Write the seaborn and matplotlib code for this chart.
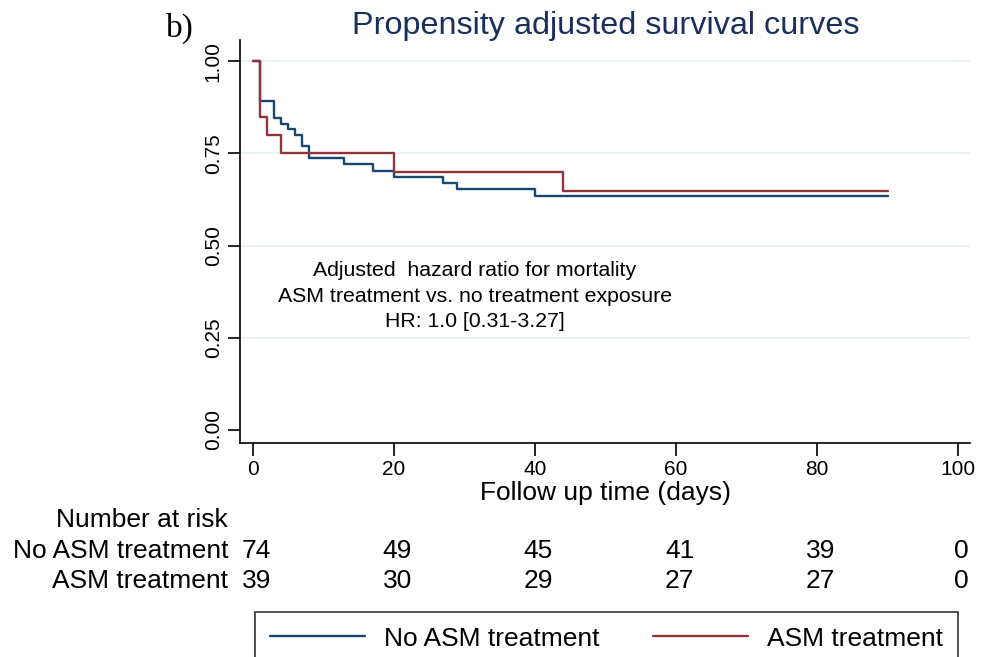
import pandas as pd
import matplotlib
matplotlib.use("Agg")
import matplotlib.pyplot as plt
import matplotlib.transforms as mtransforms
from matplotlib.lines import Line2D
import seaborn as sns

# step curves (time in days, survival)
no_asm_time = [0, 1, 3, 4, 5, 6, 7, 8, 13, 17, 20, 27, 29, 40, 90]
no_asm_surv = [1.0, 0.892, 0.845, 0.829, 0.815, 0.80, 0.770, 0.737, 0.720, 0.703, 0.686, 0.670, 0.652, 0.635, 0.635]
asm_time = [0, 1, 2, 4, 20, 44, 90]
asm_surv = [1.0, 0.849, 0.80, 0.752, 0.70, 0.649, 0.649]

risk_times = [0, 20, 40, 60, 80, 100]
risk_no_asm = [74, 49, 45, 41, 39, 0]
risk_asm = [39, 30, 29, 27, 27, 0]

groups = ["No ASM treatment", "ASM treatment"]
colors = {"No ASM treatment": "#1a476f", "ASM treatment": "#90353b"}

df = pd.concat([
    pd.DataFrame({"time": no_asm_time, "surv": no_asm_surv, "group": groups[0]}),
    pd.DataFrame({"time": asm_time, "surv": asm_surv, "group": groups[1]}),
])

sns.set_style("white")
plt.rcParams["font.family"] = ["Liberation Sans", "DejaVu Sans"]
plt.rcParams["text.color"] = "black"
plt.rcParams["axes.labelcolor"] = "black"
plt.rcParams["xtick.color"] = "black"
plt.rcParams["ytick.color"] = "black"

fig = plt.figure(figsize=(9.88, 6.57), dpi=100)
ax = fig.add_axes([0.243, 0.326, 0.739, 0.613])

for y in [0.25, 0.5, 0.75, 1.0]:
    ax.axhline(y, color="#eaf2f3", lw=1.5, zorder=0)

sns.lineplot(data=df, x="time", y="surv", hue="group", palette=colors,
             drawstyle="steps-post", estimator=None, lw=1.7, legend=False, ax=ax)

ax.set_xlim(-1.8, 101.7)
ax.set_ylim(-0.035, 1.057)
ax.set_xticks(risk_times)
ax.set_yticks([0, 0.25, 0.5, 0.75, 1.0])
ax.set_yticklabels(["0.00", "0.25", "0.50", "0.75", "1.00"], rotation=90, va="center")
ax.tick_params(axis="both", direction="out", length=9, width=1.2, color="black", labelsize=15)
ax.tick_params(axis="both", left=True, bottom=True)
for side in ["top", "right"]:
    ax.spines[side].set_visible(False)
for side in ["left", "bottom"]:
    ax.spines[side].set_color("black")
    ax.spines[side].set_linewidth(1.2)
ax.set_xlabel("Follow up time (days)", fontsize=19, labelpad=1)
ax.set_ylabel("")

ax.text(31.5, 0.363, "Adjusted  hazard ratio for mortality\nASM treatment vs. no treatment exposure\nHR: 1.0 [0.31-3.27]",
        ha="center", va="center", fontsize=15.3, linespacing=1.45)

fig.text(0.613, 1 - 26 / 657, "Propensity adjusted survival curves", ha="center", va="center",
         fontsize=23.3, color="#1a2f5e")
fig.text(0.182, 1 - 28 / 657, "b)", ha="center", va="center", fontsize=24, family=["Liberation Serif", "DejaVu Serif"])

# number at risk table
trans = mtransforms.blended_transform_factory(ax.transData, fig.transFigure)
fig.text(228 / 988, 1 - 520 / 657, "Number at risk", ha="right", va="center", fontsize=19)
fig.text(228 / 988, 1 - 551 / 657, groups[0], ha="right", va="center", fontsize=19)
fig.text(228 / 988, 1 - 581 / 657, groups[1], ha="right", va="center", fontsize=19)
for t, a, b in zip(risk_times, risk_no_asm, risk_asm):
    ax.text(t + 0.5, 1 - 551 / 657, str(a), transform=trans, ha="center", va="center", fontsize=19)
    ax.text(t + 0.5, 1 - 581 / 657, str(b), transform=trans, ha="center", va="center", fontsize=19)

handles = [Line2D([], [], color=colors[g], lw=1.7) for g in groups]
leg = fig.legend(handles, groups, loc="upper left", bbox_to_anchor=(255 / 988, 1 - 612 / 657),
                 ncol=2, frameon=True, fontsize=19, handlelength=3.6, handletextpad=0.75,
                 columnspacing=2.0, borderpad=0.55, fancybox=False, borderaxespad=0)
leg.get_frame().set_edgecolor("black")
leg.get_frame().set_linewidth(1.2)

fig.savefig("out.png", dpi=100)
